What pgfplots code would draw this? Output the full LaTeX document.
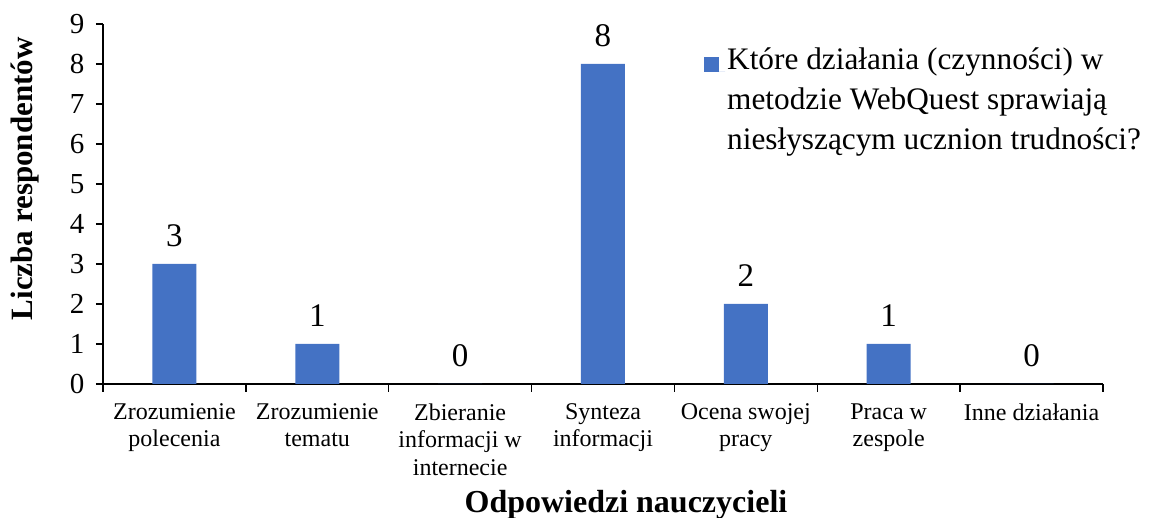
\documentclass[border=0pt]{standalone}
\usepackage{fontspec}
\setmainfont{Liberation Serif}
\usepackage{pgfplots}
\pgfplotsset{compat=1.18}
\definecolor{barblue}{HTML}{4472C4}

\begin{document}
\begin{tikzpicture}
\begin{axis}[name=ax, scale only axis, width=1000pt, height=360pt,
  ybar, bar width=44pt, bar shift=0pt,
  xmin=-0.5, xmax=6.5, ymin=0, ymax=9,
  axis x line*=bottom, axis y line*=left,
  axis line style={black, line width=1.3pt},
  tick align=outside, tick style={black, line width=1.3pt},
  /pgf/number format/assume math mode=true,
  xtick={0,...,6}, major x tick style={draw=none},
  minor xtick={-0.5,0.5,...,6.5}, minor tick length=8pt,
  xticklabels={Zrozumienie\\polecenia, Zrozumienie\\tematu, Zbieranie\\informacji w\\internecie, Synteza\\informacji, Ocena swojej\\pracy, Praca w\\zespole, Inne działania},
  xticklabel style={font=\fontsize{24}{27.5}\selectfont, align=center, anchor=north, yshift=-9pt},
  ytick={0,...,9}, major tick length=7pt,
  yticklabel style={font=\fontsize{29}{34}\selectfont, xshift=-8pt},
  nodes near coords,
  nodes near coords style={font=\fontsize{33}{38}\selectfont, anchor=south, yshift=14pt},
  xlabel={Odpowiedzi nauczycieli},
  xlabel style={font=\bfseries\fontsize{32}{38}\selectfont, at={(axis description cs:0.523,-0.356)}, anchor=base},
  ylabel={Liczba respondentów},
  ylabel style={font=\bfseries\fontsize{31}{36}\selectfont, at={(axis description cs:-0.078,0.57)}, anchor=center},
  legend style={at={(axis description cs:0.598,0.945)}, anchor=north west, draw=none, fill=none,
    font=\fontsize{31.3}{40}\selectfont},
  legend cell align=left,
  legend image code/.code={\fill[barblue] (-6pt,-12pt) rectangle (9pt,3pt);
    \path (9pt,-12pt) -- (15pt,-12pt);},
]
\addplot[fill=barblue, draw=none] coordinates {(0,3) (1,1) (2,0) (3,8) (4,2) (5,1) (6,0)};
\addlegendentry{\parbox[t]{440pt}{\raggedright Które działania (czynności) w\\metodzie WebQuest sprawiają\\niesłyszącym ucznion trudności?}}
\end{axis}
\pgfresetboundingbox
\path (ax.south west) ++(-103pt,-134pt) rectangle ++(1151pt,518pt);
\end{tikzpicture}
\end{document}
